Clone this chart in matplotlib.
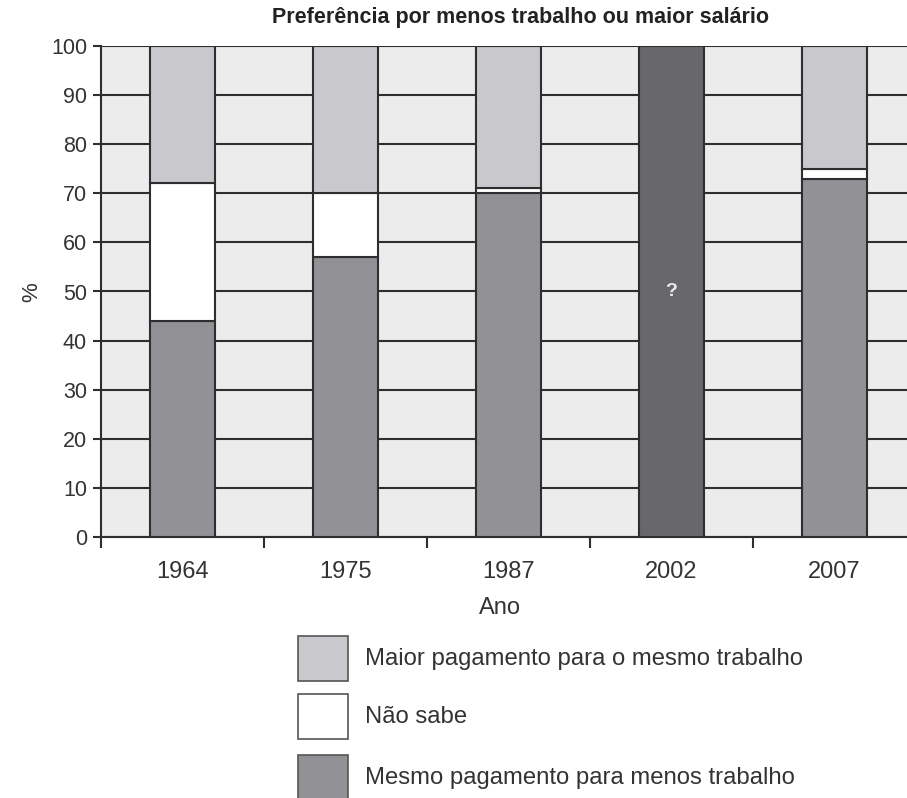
import numpy as np
import matplotlib.pyplot as plt
from matplotlib.patches import Rectangle

plt.rcParams['font.family'] = ['Liberation Sans', 'DejaVu Sans']

# Dados
anos = ["1964", "1975", "1987", "2002", "2007"]
mesmo_pagamento = [44, 57, 70, 0, 73]     # menos trabalho
nao_sabe = [28, 13, 1, 0, 2]
maior_pagamento = [28, 30, 29, 0, 25]     # mesmo trabalho
desconhecido = [0, 0, 0, 100, 0]          # 2002: "?"

series_legenda = ["Maior pagamento para o mesmo trabalho", "Não sabe",
                  "Mesmo pagamento para menos trabalho"]

cor_maior = "#c9c9cd"
cor_nao = "#ffffff"
cor_mesmo = "#929296"
cor_desc = "#68686a"
borda = "#2e2e2e"

W, H = 907, 798
fig = plt.figure(figsize=(W / 100, H / 100), dpi=100)
# eixo em pixels: esquerda 101, direita 916 (cortado), topo 46, base 537
ax = fig.add_axes([101 / W, 1 - 537 / H, (916 - 101) / W, (537 - 46) / H])
ax.set_facecolor("#ececec")

x = np.arange(len(anos))
largura = 0.4
base = np.zeros(len(anos))
for vals, cor in [(mesmo_pagamento, cor_mesmo), (nao_sabe, cor_nao),
                  (maior_pagamento, cor_maior), (desconhecido, cor_desc)]:
    vals = np.array(vals, dtype=float)
    ax.bar(x, vals, largura, bottom=base, color=cor, edgecolor=borda,
           linewidth=1.5, zorder=3)
    base += vals

ax.text(3, 50, "?", ha="center", va="center", color="#e8e8ee",
        fontsize=14, fontweight="bold", zorder=4)

ax.set_xlim(-0.5, 4.5)
ax.set_ylim(0, 100)
ax.set_yticks(np.arange(0, 101, 10))
ax.yaxis.grid(True, color="#2e2e2e", linewidth=1.5, zorder=1)
ax.set_axisbelow(True)

ax.set_xticks(np.arange(-0.5, 4.6, 1))
ax.set_xticklabels([])
ax.set_xticks(x, minor=True)
ax.set_xticklabels(anos, minor=True)
ax.tick_params(axis="x", which="major", length=8, width=1.5, color=borda)
ax.tick_params(axis="x", which="minor", length=0, pad=17, labelsize=17,
               labelcolor="#333333")
ax.tick_params(axis="y", length=6, width=1.5, color=borda, labelsize=15.5,
               labelcolor="#333333", pad=4)
for lado in ["top", "right"]:
    ax.spines[lado].set_visible(False)
for lado in ["left", "bottom"]:
    ax.spines[lado].set_color(borda)
    ax.spines[lado].set_linewidth(1.5)

fig.text(520 / W, 1 - 18 / H, "Preferência por menos trabalho ou maior salário",
         ha="center", va="center", fontsize=15.5, fontweight="bold", color="#222222")
fig.text(32 / W, 1 - 292 / H, "%", ha="center", va="center", rotation=90,
         fontsize=16, color="#333333")
fig.text(500 / W, 1 - 608 / H, "Ano", ha="center", va="center",
         fontsize=17, color="#333333")

# Legenda manual
cores_legenda = [cor_maior, cor_nao, cor_mesmo]
topos = [636, 694, 755]
for rotulo, cor, topo in zip(series_legenda, cores_legenda, topos):
    fig.add_artist(Rectangle((298 / W, 1 - (topo + 45) / H), 50 / W, 45 / H,
                             transform=fig.transFigure, facecolor=cor,
                             edgecolor="#555555", linewidth=1.2))
    fig.text(365 / W, 1 - (topo + 23) / H, rotulo, ha="left", va="center",
             fontsize=17.2, color="#333333")

fig.savefig("out.png", dpi=100)
